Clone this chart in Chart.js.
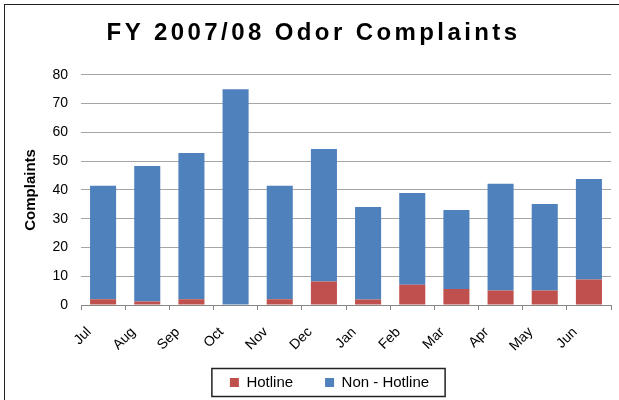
<!DOCTYPE html>
<html>
<head>
<meta charset="utf-8">
<script src="https://cdn.jsdelivr.net/npm/chart.js@4.4.1/dist/chart.umd.min.js"></script>
<style>
  html, body { margin: 0; padding: 0; background: #fff; overflow: hidden; }
  #wrap { position: relative; width: 619px; height: 400px; }
  #frame { position: absolute; left: 4px; top: 4px; width: 700px; height: 500px;
           border-left: 1.5px solid #222; border-top: 1.5px solid #222; pointer-events: none; }
  canvas { position: absolute; left: 0; top: 0; }
</style>
</head>
<body>
<div id="wrap">
  <canvas id="c" width="619" height="400"></canvas>
  <div id="frame"></div>
</div>
<script>
const months = ['Jul','Aug','Sep','Oct','Nov','Dec','Jan','Feb','Mar','Apr','May','Jun'];
const hotline = [2, 1.2, 2, 0, 2, 8.2, 1.9, 7, 5.6, 5, 5, 8.9];
const nonHotline = [39.4, 47.1, 50.8, 75, 39.4, 46, 32.2, 31.9, 27.4, 37.1, 30.1, 34.9];
const yTicks = [0, 10, 20, 30, 40, 50, 60, 70, 80];

const LEGEND_SHIFT = 24;
const LEGEND_SHRINK = 17;

const drawTweaks = {
  id: 'drawTweaks',
  afterInit(chart) {
    const lg = chart.legend;
    if (lg && !lg._fitPatched) {
      const origFit = lg.fit;
      lg.fit = function () {
        origFit.apply(this, arguments);
        this.height = Math.max(0, this.height - LEGEND_SHRINK);
      };
      lg._fitPatched = true;
    }
  },
  beforeDraw(chart) {
    const tb = chart.titleBlock;
    if (tb && !tb._patched) {
      const orig = tb.draw;
      tb.draw = function () {
        const ctx = this.ctx;
        ctx.save();
        ctx.translate(8, 0);
        ctx.letterSpacing = '3.4px';
        orig.apply(this, arguments);
        ctx.restore();
      };
      tb._patched = true;
    }
    const lg = chart.legend;
    if (lg && !lg._patched) {
      const origL = lg.draw;
      lg.draw = function () {
        const ctx = this.ctx;
        ctx.save();
        ctx.translate(LEGEND_SHIFT, -LEGEND_SHRINK);
        if (typeof this._draw === 'function') {
          if (this.options.display) this._draw();
        } else {
          origL.apply(this, arguments);
        }
        ctx.restore();
      };
      lg._patched = true;
    }
  },
  afterDraw(chart) {
    const lg = chart.legend;
    if (!lg || !lg.legendHitBoxes || !lg.legendHitBoxes.length) return;
    const hb = lg.legendHitBoxes;
    let minX = Infinity, maxX = -Infinity, minY = Infinity, maxY = -Infinity;
    hb.forEach(b => { minX = Math.min(minX, b.left); maxX = Math.max(maxX, b.left + b.width);
                      minY = Math.min(minY, b.top); maxY = Math.max(maxY, b.top + b.height); });
    const ctx = chart.ctx;
    ctx.save();
    ctx.strokeStyle = '#222';
    ctx.lineWidth = 1.5;
    ctx.strokeRect(minX - 18 + LEGEND_SHIFT, minY - 6.5 - LEGEND_SHRINK, (maxX - minX) + 34, (maxY - minY) + 13);
    ctx.restore();
  }
};

new Chart(document.getElementById('c'), {
  type: 'bar',
  data: {
    labels: months,
    datasets: [
      { label: 'Hotline', data: hotline, backgroundColor: '#C0504D', stack: 's' },
      { label: 'Non - Hotline', data: nonHotline, backgroundColor: '#4F81BD', stack: 's' }
    ]
  },
  options: {
    responsive: false,
    animation: false,
    devicePixelRatio: 1,
    barPercentage: 0.59,
    categoryPercentage: 1.0,
    layout: { padding: { left: 0, right: 8, top: 0, bottom: 0 } },
    plugins: {
      title: {
        display: true,
        text: 'FY 2007/08 Odor Complaints',
        color: '#000',
        font: { family: 'Liberation Sans, Arial, sans-serif', size: 24, weight: 'bold' },
        padding: { top: 19, bottom: 27 }
      },
      legend: {
        position: 'bottom',
        labels: {
          color: '#000',
          font: { family: 'Liberation Sans, Arial, sans-serif', size: 15 },
          boxWidth: 9, boxHeight: 9,
          padding: 32
        }
      },
      tooltip: { enabled: false }
    },
    scales: {
      x: {
        stacked: true,
        grid: { display: true, drawOnChartArea: false, drawTicks: true, tickLength: 5, color: '#868686', offset: true },
        border: { display: true, color: '#868686', width: 1 },
        ticks: {
          color: '#000', minRotation: 45, maxRotation: 45, padding: 14, labelOffset: -14,
          font: { family: 'Liberation Sans, Arial, sans-serif', size: 14 }
        },
        afterFit(scale) { scale.height = 55; }
      },
      y: {
        stacked: true,
        min: 0, max: 80,
        afterBuildTicks(scale) { scale.ticks = yTicks.map(v => ({ value: v })); },
        grid: { color: '#A6A6A6', lineWidth: 1, drawTicks: false, tickLength: 0 },
        border: { display: false },
        ticks: {
          color: '#000', padding: 13,
          font: { family: 'Liberation Sans, Arial, sans-serif', size: 14 }
        },
        title: {
          display: true, text: 'Complaints', color: '#000',
          font: { family: 'Liberation Sans, Arial, sans-serif', size: 15, weight: 'bold' },
          padding: { top: 22, bottom: 0 }
        },
        afterFit(scale) { scale.width = 81; }
      }
    }
  },
  plugins: [drawTweaks]
});
</script>
</body>
</html>
